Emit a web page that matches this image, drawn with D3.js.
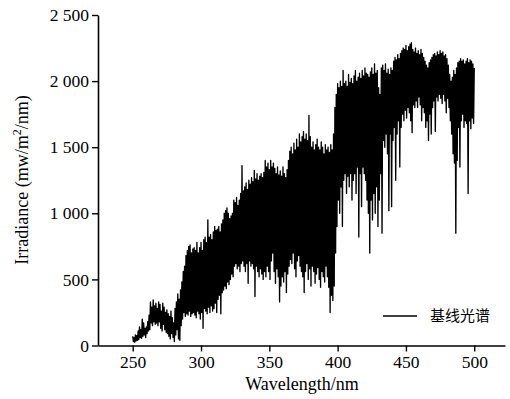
<!DOCTYPE html>
<html><head><meta charset="utf-8">
<script src="https://cdn.jsdelivr.net/npm/d3@7"></script>
<style>body{margin:0;background:#fff}svg{display:block}</style>
</head><body>
<svg id="c" width="510" height="399"></svg>
<script>
// wavelength grid (nm), 1 nm steps
const wavelengths = d3.range(250, 501);
// upper excursions of the spectrum per nm (mw/m2/nm)
const peakValues = [
 70,60,80,75,110,140,120,200,170,130,
 140,180,230,330,290,345,300,320,280,330,
 310,260,320,290,250,270,240,220,260,210,
 170,280,330,390,350,420,480,560,600,680,
 720,750,760,700,730,740,720,780,700,740,
 780,720,800,820,780,950,820,840,800,860,
 900,870,880,900,860,920,950,1000,1020,1040,
 1000,960,980,1000,1100,1080,1120,1060,1100,1150,
 1360,1170,1200,1230,1180,1250,1220,1270,1240,1325,
 1260,1300,1250,1280,1300,1270,1310,1400,1350,1380,
 1330,1400,1350,1380,1340,1300,1350,1290,1320,1280,
 1350,1300,1270,1330,1400,1470,1500,1450,1530,1480,
 1560,1500,1600,1540,1580,1620,1560,1600,1550,1740,
 1580,1500,1540,1480,1520,1560,1500,1480,1540,1500,
 1450,1520,1480,1500,1460,1520,1480,1600,1800,1900,
 1980,1950,2000,1960,2080,1980,2000,1960,2050,1990,
 2020,1980,2040,2080,2000,2030,2060,2020,2080,2040,
 2100,2060,2050,2030,2070,2100,2050,2130,2060,2080,
 1950,1900,2100,2120,2080,2130,2060,2090,2050,2100,
 2080,2150,2180,2160,2200,2170,2210,2230,2250,2240,
 2270,2230,2260,2280,2290,2240,2220,2250,2210,2230,
 2200,2240,2210,2180,2150,2120,2100,2140,2160,2180,
 2200,2210,2190,2220,2200,2230,2210,2220,2190,2200,
 2170,2120,2050,2000,2030,2080,2050,2100,2140,2150,
 2170,2150,2160,2130,2150,2170,2140,2160,2150,2130,
 2100
];
// lower excursions of the spectrum per nm (mw/m2/nm)
const troughValues = [
 30,25,35,40,45,60,55,70,80,60,
 90,110,120,170,150,180,160,170,150,180,
 130,110,160,120,100,90,70,50,90,60,
 30,80,120,50,40,150,200,250,220,240,
 230,260,220,240,250,230,210,260,240,200,
 250,130,280,260,240,290,250,300,260,280,
 320,250,350,380,240,400,420,450,430,480,
 460,500,540,520,600,620,580,600,560,620,
 640,600,560,620,470,640,600,620,580,370,
 600,560,520,580,540,500,560,520,600,560,
 500,640,700,560,470,580,520,330,450,520,
 480,560,400,540,600,650,620,700,580,520,
 640,680,600,560,520,400,560,620,500,580,
 450,600,560,470,540,590,500,440,560,520,
 480,600,520,440,250,380,340,450,700,900,
 1100,1000,1200,900,1250,1300,1150,1280,1200,1300,
 1100,1250,1300,1150,1350,820,1300,1050,1350,1300,
 1250,1100,1000,700,1100,950,1150,1000,1200,900,
 1100,1300,850,1550,1500,1600,1450,1020,1600,1050,
 1550,1650,1250,1600,1700,1350,1650,1750,1700,1780,
 1720,1800,1760,1700,1610,1820,1800,1850,1800,1880,
 1820,1700,1800,1760,1650,1700,1550,1750,1600,1800,
 1850,1620,1880,1850,1900,1870,1830,1900,1850,1760,
 1870,1800,1700,1600,1450,1380,850,1400,1650,1350,
 1700,1750,1650,1700,1680,1150,1700,1640,1720,1680,
 1750
];
const xTicks = [250, 300, 350, 400, 450, 500];
const yTicks = [0, 500, 1000, 1500, 2000, 2500];
const legendLabel = "基线光谱";

const svg = d3.select("#c");
const x = d3.scaleLinear().domain([224.6, 522.5]).range([98, 505]);
const y = d3.scaleLinear().domain([0, 2500]).range([345.5, 15]);

const pts = [];
wavelengths.forEach((w, i) => {
  pts.push([w, peakValues[i]]);
  pts.push([w + 0.5, troughValues[i]]);
});
pts.pop();

svg.append("path")
  .datum(pts)
  .attr("fill", "none")
  .attr("stroke", "#000")
  .attr("stroke-width", 1.35)
  .attr("stroke-linejoin", "round")
  .attr("d", d3.line().x(d => x(d[0])).y(d => y(d[1])));

const fmt = v => d3.format(",")(v).replace(/,/g, " ");
const serif = "'Liberation Serif','Times New Roman',serif";

const gx = svg.append("g").attr("transform", "translate(0,345.5)")
  .call(d3.axisBottom(x).tickValues(xTicks).tickSize(6).tickPadding(4).tickSizeOuter(0));
const gy = svg.append("g").attr("transform", "translate(98,0)")
  .call(d3.axisLeft(y).tickValues(yTicks).tickFormat(fmt).tickSize(6).tickPadding(3).tickSizeOuter(0));
[gx, gy].forEach(g => {
  g.select(".domain").attr("stroke", "#000").attr("stroke-width", 1.6);
  g.selectAll(".tick line").attr("stroke", "#000").attr("stroke-width", 1.4);
  g.selectAll(".tick text").attr("fill", "#000").style("font-family", serif).style("font-size", "17.5px");
});

svg.append("text").attr("x", 302).attr("y", 390).attr("text-anchor", "middle")
  .style("font-family", serif).style("font-size", "18px").text("Wavelength/nm");

const yt = svg.append("text").attr("transform", "translate(28,180) rotate(-90)")
  .attr("text-anchor", "middle").style("font-family", serif).style("font-size", "18px");
yt.append("tspan").text("Irradiance (mw/m");
yt.append("tspan").attr("dy", -7).style("font-size", "12px").text("2");
yt.append("tspan").attr("dy", 7).text("/nm)");

svg.append("line").attr("x1", 383).attr("x2", 417).attr("y1", 316).attr("y2", 316)
  .attr("stroke", "#000").attr("stroke-width", 1.4);
svg.append("text").attr("x", 430).attr("y", 321)
  .style("font-family", "'Noto Sans CJK SC',sans-serif").style("font-size", "15px").text(legendLabel);
</script>
</body></html>
